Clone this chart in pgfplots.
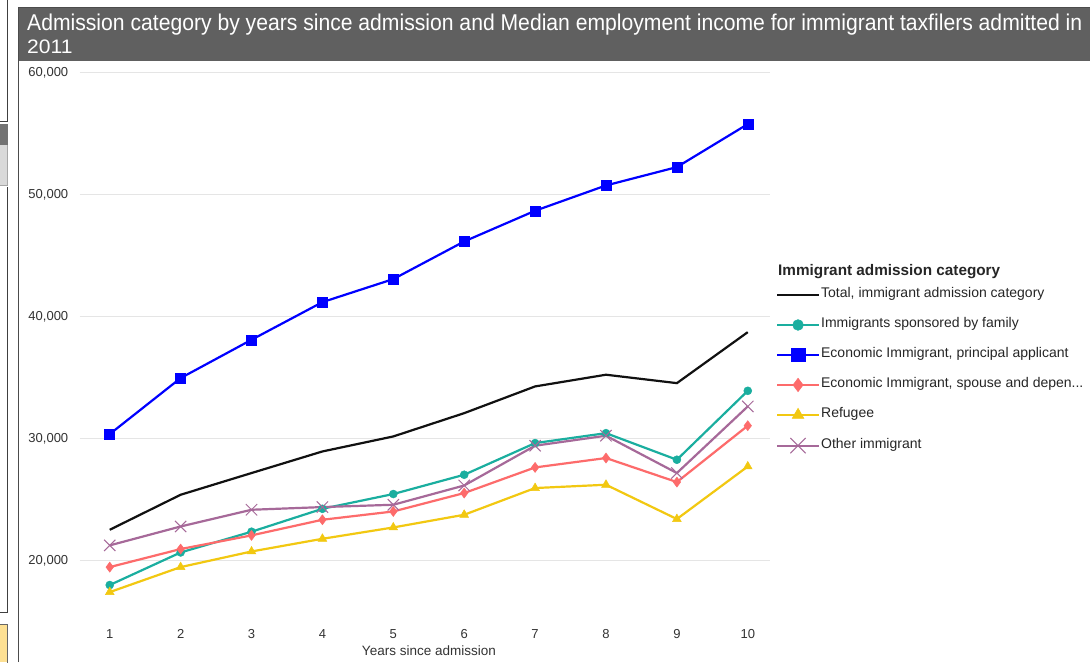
\documentclass[border=0pt]{standalone}
\usepackage{pgfplots}
\pgfplotsset{compat=1.18}
\usepackage{fontspec}
\setmainfont{Liberation Sans}
\definecolor{cteal}{HTML}{1AAE9F}
\definecolor{cblue}{HTML}{0000FF}
\definecolor{csalmon}{HTML}{FD6B6B}
\definecolor{cyellow}{HTML}{F2C811}
\definecolor{cpurple}{HTML}{A66999}
\definecolor{cblack}{HTML}{111111}
\definecolor{titlebg}{HTML}{606060}
\definecolor{ticktext}{HTML}{333333}
\begin{document}
\begin{tikzpicture}[x=1pt,y=1pt]
\useasboundingbox (0,0) rectangle (1090,662);
\fill[white] (0,0) rectangle (1090,662);
% left page artifacts
\draw[black!75, line width=1pt] (-1,540) -- (7.5,540) -- (7.5,663);
\fill[black!55] (0,517) rectangle (7.5,538);
\fill[black!15] (0,477) rectangle (7.5,517);
\draw[black!35, line width=0.8pt] (-1,477) -- (7.5,477) -- (7.5,517);
\draw[black!75, line width=1pt] (-1,50) -- (7.5,50) -- (7.5,475);
\fill[yellow!45!orange!40] (0,0) rectangle (7.5,38);
\draw[black!60, line width=0.8pt] (-1,38) -- (7.5,38) -- (7.5,-1);
% panel border
\draw[black!70, line width=1.2pt] (18.5,0) -- (18.5,654) -- (1091,654);
% title bar
\fill[titlebg] (19,601) rectangle (1090,653.5);
\node[anchor=base west, text=white, font=\fontsize{19.5}{21}\selectfont, inner sep=0pt] at (27,631) {\resizebox{1055pt}{!}{\scalebox{1}[1.08]{Admission category by years since admission and Median employment income for immigrant taxfilers admitted in}}};
\node[anchor=base west, text=white, font=\fontsize{19.5}{21}\selectfont, inner sep=0pt] at (27,608) {\scalebox{1.08}[1]{2011}};
% legend title
\node[anchor=west, font=\fontsize{13}{15}\selectfont\bfseries, text=black!85, inner sep=0pt] at (778,390) {\resizebox{222pt}{!}{Immigrant admission category}};
\begin{axis}[
  at={(112.5,33)}, anchor=south west,
  scale only axis, width=690pt, height=552pt,
  xmin=0.577, xmax=10.31, ymin=15000, ymax=60250,
  axis line style={draw=none},
  major tick style={draw=none},
  xtick={1,...,10},
  ytick={20000,30000,40000,50000,60000},
  ymajorgrids, grid style={black!10, line width=1.2pt},
  /pgf/number format/assume math mode=true,
  /pgf/number format/1000 sep={,},
  scaled y ticks=false,
  ticklabel style={font=\fontsize{13}{15}\selectfont, text=ticktext},
  yticklabel style={anchor=east, xshift=-8pt},
  xticklabel style={anchor=north, yshift=-4pt},
  xlabel={Years since admission},
  xlabel style={at={(axis description cs:0.506,0)}, anchor=center, yshift=-29pt, font=\fontsize{13.5}{15}\selectfont, text=ticktext},
  legend style={at={(1.0087,0.605)}, anchor=north west, draw=none, fill=none,
     font=\fontsize{14}{16}\selectfont, inner sep=0pt, row sep=16pt,
     nodes={inner sep=1pt, text height=9pt, text depth=3pt, text=black!85}},
  legend cell align=left,
  legend image code/.code={\draw[mark repeat=2, mark phase=2, every mark/.append style={scale=1.35}, #1] plot coordinates {(0pt,0pt) (21pt,0pt) (42pt,0pt)};},
  every axis plot/.append style={line width=2.2pt},
  clip=false,
]
\addplot[cblack, no marks] coordinates {(1,22540) (2,25410) (3,27190) (4,28960) (5,30190) (6,32100) (7,34290) (8,35250) (9,34560) (10,38740)};
\addlegendentry{Total, immigrant admission category}
\addplot[cteal, mark=*, mark size=4pt, mark options={solid, fill=cteal, draw=cteal, line width=0.5pt}] coordinates {(1,18010) (2,20680) (3,22380) (4,24260) (5,25470) (6,27050) (7,29645) (8,30460) (9,28280) (10,33930)};
\addlegendentry{Immigrants sponsored by family}
\addplot[cblue, mark=square*, mark size=5pt, mark options={solid, fill=cblue, draw=cblue, line width=0.5pt}] coordinates {(1,30385) (2,34975) (3,38115) (4,41200) (5,43090) (6,46175) (7,48690) (8,50765) (9,52270) (10,55795)};
\addlegendentry{Economic Immigrant, principal applicant}
\addplot[csalmon, mark=diamond*, mark size=5pt, mark options={solid, fill=csalmon, draw=csalmon, line width=0.5pt}] coordinates {(1,19480) (2,20960) (3,22080) (4,23360) (5,24040) (6,25550) (7,27650) (8,28420) (9,26450) (10,31070)};
\addlegendentry{Economic Immigrant, spouse and depen...}
\addplot[cyellow, mark=triangle*, mark size=5pt, mark options={solid, fill=cyellow, draw=cyellow, line width=0.5pt}] coordinates {(1,17430) (2,19480) (3,20760) (4,21800) (5,22730) (6,23770) (7,25960) (8,26230) (9,23420) (10,27730)};
\addlegendentry{Refugee}
\addplot[cpurple, mark=x, mark size=8pt, mark options={solid, draw=cpurple, line width=1pt}] coordinates {(1,21260) (2,22810) (3,24180) (4,24400) (5,24590) (6,26170) (7,29430) (8,30250) (9,27190) (10,32650)};
\addlegendentry{Other immigrant}
\end{axis}
\end{tikzpicture}
\end{document}
